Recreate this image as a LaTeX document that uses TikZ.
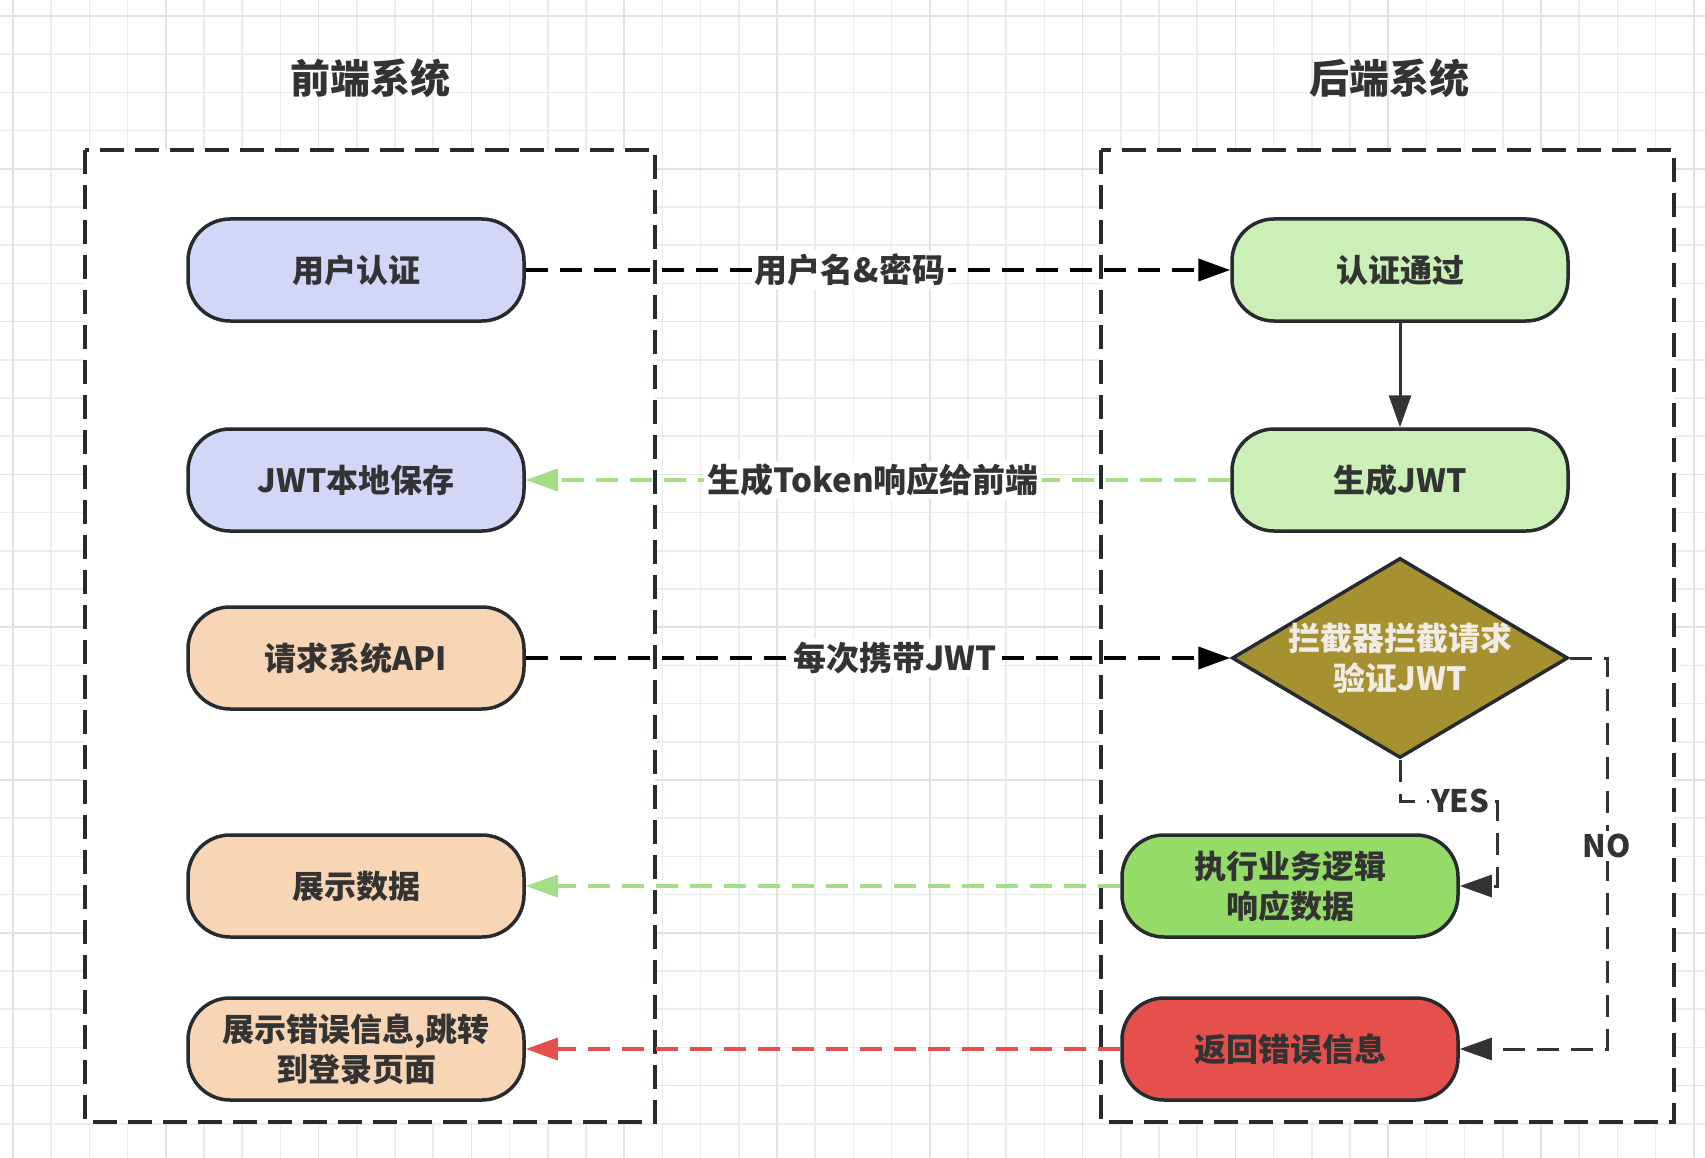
\documentclass[tikz,border=0pt]{standalone}
\usepackage{fontspec}
\setmainfont{Noto Sans CJK SC}
\usetikzlibrary{arrows.meta,shapes.geometric}
\definecolor{inkc}{RGB}{38,43,48}
\definecolor{txtc}{RGB}{51,51,51}
\definecolor{gridc}{RGB}{236,236,236}
\definecolor{gridm}{RGB}{226,226,226}
\definecolor{lavc}{RGB}{212,214,247}
\definecolor{peachc}{RGB}{248,213,180}
\definecolor{lgreenc}{RGB}{204,239,184}
\definecolor{olivec}{RGB}{165,145,48}
\definecolor{greenc}{RGB}{149,219,104}
\definecolor{redc}{RGB}{229,80,77}
\definecolor{glinec}{RGB}{166,221,135}
\definecolor{dtxtc}{RGB}{240,236,228}
\begin{document}
\begin{tikzpicture}[x=1pt,y=-1pt,
  panel/.style={draw=inkc,line width=3.5pt,fill=white,dash pattern=on 24pt off 11pt},
  ttl/.style={font=\fontsize{40}{46}\selectfont\bfseries,text=txtc},
  proc/.style={draw=inkc,line width=3.5pt,rounded corners=42pt,minimum width=336pt,minimum height=102pt,align=center,text=txtc,font=\fontsize{32}{40}\selectfont\bfseries},
  elab/.style={fill=white,inner sep=3pt,text=txtc,font=\fontsize{33}{38}\selectfont\bfseries},
  blk/.style={draw=black,line width=4pt,dash pattern=on 22pt off 12pt,-{Triangle[length=32pt,width=22pt]}},
  grn/.style={draw=glinec,line width=3.5pt,dash pattern=on 22pt off 12pt,-{Triangle[length=32pt,width=22pt]}},
  rdl/.style={draw=redc,line width=3.5pt,dash pattern=on 22pt off 12pt,-{Triangle[length=32pt,width=22pt]}},
  dgl/.style={draw=txtc,line width=3pt,dash pattern=on 22pt off 12pt,-{Triangle[length=32pt,width=22pt]}},
  sol/.style={draw=txtc,line width=3pt,-{Triangle[length=32pt,width=22pt]}}
]
\useasboundingbox (0,0) rectangle (1705,1158);
\fill[white] (0,0) rectangle (1705,1158);
\foreach \i in {0,...,44} {\draw[gridc,line width=1.5pt] (13+38.2*\i,0) -- (13+38.2*\i,1158);}
\foreach \j in {0,...,30} {\draw[gridc,line width=1.5pt] (0,16+38.2*\j) -- (1705,16+38.2*\j);}
\foreach \i in {0,...,11} {\draw[gridm,line width=1.5pt] (13+152.8*\i,0) -- (13+152.8*\i,1158);}
\foreach \j in {0,...,7} {\draw[gridm,line width=1.5pt] (0,16+152.8*\j) -- (1705,16+152.8*\j);}

\draw[panel] (85,150) rectangle (655,1122);
\draw[panel] (1101,150) rectangle (1674,1122);

\node[ttl] (tfront) at (370,78) {前端系统};
\node[ttl] (tback) at (1389,78) {后端系统};

\node[proc,fill=lavc] (auth) at (356,270) {用户认证};
\node[proc,fill=lavc] (save) at (356,480) {JWT本地保存};
\node[proc,fill=peachc] (req) at (356,658) {请求系统API};
\node[proc,fill=peachc] (show) at (356,886) {展示数据};
\node[proc,fill=peachc] (showerr) at (356,1049) {展示错误信息,跳转\\到登录页面};

\node[proc,fill=lgreenc] (pass) at (1400,270) {认证通过};
\node[proc,fill=lgreenc] (gen) at (1400,480) {生成JWT};
\node[diamond,draw=inkc,line width=3.5pt,fill=olivec,minimum width=336pt,minimum height=200pt,inner sep=0pt] (dia) at (1400,658) {};
\node[align=center,text=dtxtc,font=\fontsize{32}{40}\selectfont\bfseries] (diat) at (dia.center) {拦截器拦截请求\\验证JWT};
\node[proc,fill=greenc] (exec) at (1290,886) {执行业务逻辑\\响应数据};
\node[proc,fill=redc] (err) at (1290,1049) {返回错误信息};

\draw[blk] (auth.east) -- node[elab,pos=0.46] {用户名\&密码} (pass.west);
\draw[sol] (pass.south) -- (gen.north);
\draw[grn] (gen.west) -- node[elab,pos=0.507] {生成Token响应给前端} (save.east);
\draw[blk] (req.east) -- node[elab,pos=0.524] {每次携带JWT} (dia.west);
\draw[grn] (exec.west) -- (show.east);
\draw[rdl] (err.west) -- (showerr.east);

\coordinate (y1) at (1400,801);
\coordinate (y2) at (1497,801);
\draw[dgl] (dia.south) -- (y1) -- node[elab,pos=0.62,inner sep=2pt,font=\fontsize{31}{36}\selectfont\bfseries] {YES} (y2) |- (exec.east);
\coordinate (n1) at (1607,658);
\coordinate (n2) at (1607,1049);
\draw[dgl] (dia.east) -- (n1) -- node[elab,pos=0.48,font=\fontsize{31}{36}\selectfont\bfseries] {NO} (n2) -- (err.east);
\end{tikzpicture}
\end{document}
